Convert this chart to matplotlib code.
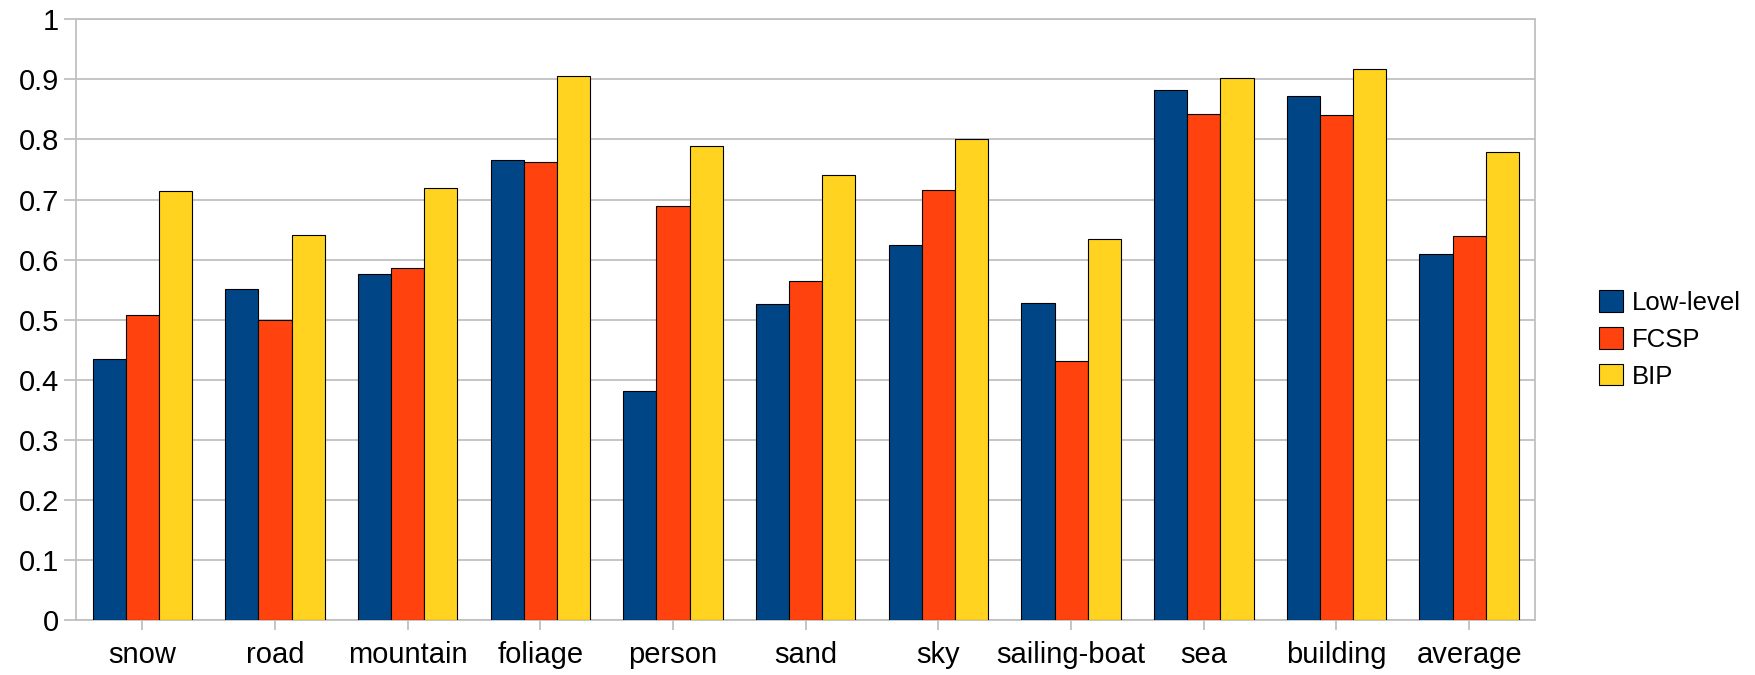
import numpy as np
import matplotlib
matplotlib.use('Agg')
import matplotlib.pyplot as plt
from matplotlib.patches import Patch

categories = ['snow', 'road', 'mountain', 'foliage', 'person', 'sand',
              'sky', 'sailing-boat', 'sea', 'building', 'average']
low_level = [0.434, 0.551, 0.576, 0.766, 0.381, 0.526, 0.624, 0.528, 0.882, 0.872, 0.610]
fcsp = [0.507, 0.500, 0.586, 0.762, 0.689, 0.565, 0.716, 0.432, 0.843, 0.841, 0.640]
bip = [0.714, 0.641, 0.720, 0.906, 0.789, 0.741, 0.800, 0.634, 0.903, 0.918, 0.780]
series_names = ['Low-level', 'FCSP', 'BIP']
yticks = [0, 0.1, 0.2, 0.3, 0.4, 0.5, 0.6, 0.7, 0.8, 0.9, 1]
ytick_labels = ['0', '0.1', '0.2', '0.3', '0.4', '0.5', '0.6', '0.7', '0.8', '0.9', '1']

colors = ['#004586', '#ff420e', '#ffd320']
grey = '#c0c0c0'

plt.rcParams['font.family'] = ['Liberation Sans', 'DejaVu Sans']

fig = plt.figure(figsize=(17.56, 6.75), dpi=100)
ax = fig.add_axes([0.0433, 0.0815, 0.8311, 0.8898])

x = np.arange(len(categories))
w = 0.25
for i, vals in enumerate([low_level, fcsp, bip]):
    ax.bar(x + (i - 1) * w, vals, w, color=colors[i], edgecolor='black',
           linewidth=0.8, zorder=3)

ax.set_xlim(-0.5, len(categories) - 0.5)
ax.set_ylim(0, 1)
ax.set_yticks(yticks)
ax.set_yticklabels(ytick_labels)
ax.set_xticks(x)
ax.set_xticklabels(categories)

ax.yaxis.grid(True, color=grey, linewidth=1.3, zorder=0)
ax.set_axisbelow(True)
for s in ax.spines.values():
    s.set_color(grey)
    s.set_linewidth(1.3)

ax.tick_params(axis='y', length=8.5, width=1.3, color=grey, pad=3.5, labelsize=21)
ax.tick_params(axis='x', length=7, width=1.3, color=grey, pad=8, labelsize=21)

handles = [Patch(facecolor=c, edgecolor='black', linewidth=0.8) for c in colors]
fig.legend(handles, series_names, loc='center left', bbox_to_anchor=(0.9035, 0.497),
           frameon=False, fontsize=18.5, handlelength=0.9, handleheight=0.9,
           handletextpad=0.35, labelspacing=0.48, borderpad=0)

fig.savefig('out.png', dpi=100)
